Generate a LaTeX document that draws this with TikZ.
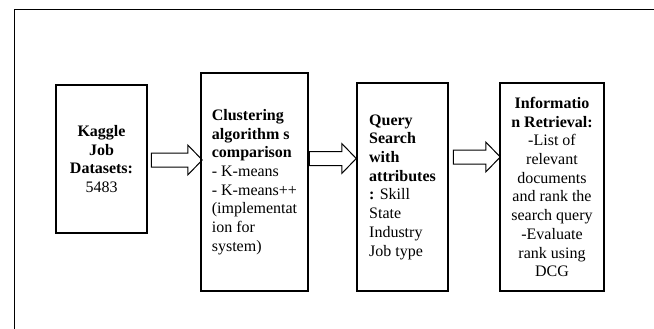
\documentclass[tikz,border=0pt]{standalone}
\usepackage{fontspec}
\setmainfont{Liberation Serif}
\usepackage{tikz}
\usetikzlibrary{shapes,arrows,positioning,calc}

\begin{document}
\begin{tikzpicture}[x=1pt, y=-1pt, font=\fontsize{16}{18.7}\selectfont,
    stage/.style={draw, line width=1.5pt, inner sep=0pt},
    fatarrow/.style={single arrow, draw, line width=1pt, inner xsep=0pt, inner ysep=6.5pt,
        single arrow head extend=8pt, single arrow tip angle=92, minimum width=29pt, minimum height=51pt}]
        \useasboundingbox (0,0) rectangle (654,329);
        % outer frame, runs off the right and bottom edge
        \begin{scope}
            \clip (0,0) rectangle (654,329);
            \draw[line width=0.8pt] (14,9) rectangle (670,345);
        \end{scope}
        % the four stages
        \node[stage, minimum width=91pt, minimum height=148pt, align=center] (kaggle) at (101.5,159)
            {\textbf{Kaggle}\\ \textbf{Job}\\ \textbf{Datasets:}\\ 5483};
        \node[stage, minimum width=107pt, minimum height=218pt, align=left] (cluster) at (254.5,182)
            {\textbf{Clustering}\\ \textbf{algorithm s}\\ \textbf{comparison}\\ - K-means\\ - K-means++\\ (implementat\\ ion for\\ system)};
        \node[stage, minimum width=91pt, minimum height=208pt, align=left] (query) at (402.5,187)
            {\textbf{Query}\\ \textbf{Search}\\ \textbf{with}\\ \textbf{attributes}\\ \textbf{:} Skill\\ State\\ Industry\\ Job type};
        \node[stage, minimum width=104pt, minimum height=208pt, align=center] (retrieval) at (552,187)
            {\textbf{Informatio}\\ \textbf{n Retrieval:}\\ -List of\\ relevant\\ documents\\ and rank the\\ search query\\ -Evaluate\\ rank using\\ DCG};
        % block arrows between the stages
        \node[fatarrow, anchor=tail] (arr1) at ($(kaggle.east)+(3,1)$) {};
        \node[fatarrow, anchor=tail, minimum height=47pt] (arr2) at ($(cluster.east)+(0,-23.5)$) {};
        \node[fatarrow, anchor=tail, minimum height=47pt] (arr3) at ($(query.east)+(4,-30)$) {};
    \end{tikzpicture}
\end{document}
